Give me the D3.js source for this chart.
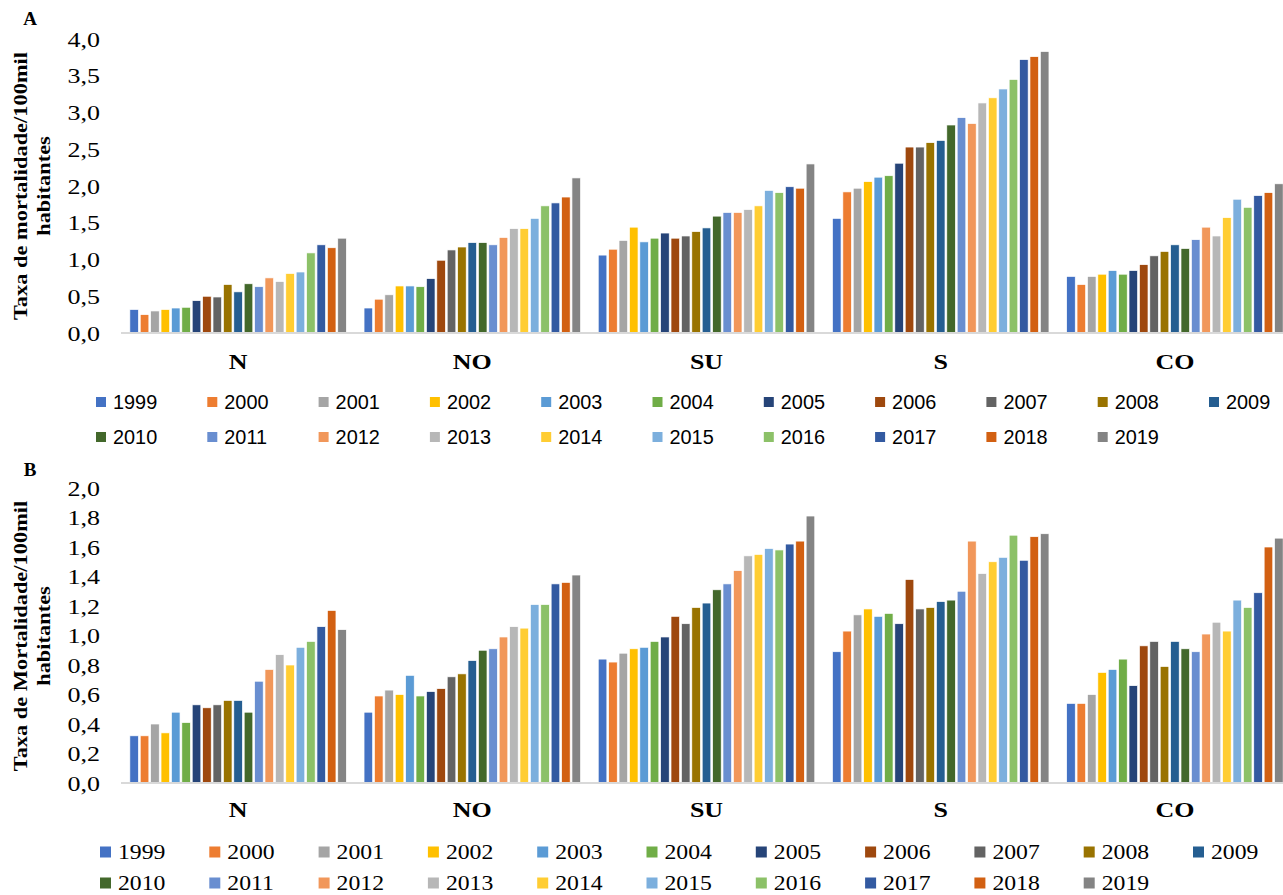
<!DOCTYPE html>
<html>
<head>
<meta charset="utf-8">
<script src="https://cdn.jsdelivr.net/npm/d3@7"></script>
<style>
  html, body { margin: 0; padding: 0; background: #fff; }
  svg { display: block; }
</style>
</head>
<body>
<script>
// ---------- DATA ----------
const regions = ["N", "NO", "SU", "S", "CO"];
const years = ["1999","2000","2001","2002","2003","2004","2005","2006","2007","2008","2009",
               "2010","2011","2012","2013","2014","2015","2016","2017","2018","2019"];
const colors = ["#4472C4","#ED7D31","#A5A5A5","#FFC000","#5B9BD5","#70AD47","#264478",
                "#9E480E","#636363","#997300","#255E91","#43682B","#698ED0","#F1975A",
                "#B7B7B7","#FFCD33","#7CAFDD","#8CC168","#335AA1","#D26012","#848484"];

// Panel A: Taxa de mortalidade (one array per region, 1999..2019)
const ratesA_N  = [0.32,0.25,0.30,0.32,0.34,0.35,0.44,0.50,0.49,0.66,0.56,0.67,0.63,0.75,0.70,0.81,0.83,1.09,1.20,1.16,1.29];
const ratesA_NO = [0.34,0.46,0.52,0.64,0.64,0.63,0.74,0.99,1.13,1.17,1.23,1.23,1.20,1.30,1.42,1.42,1.56,1.73,1.77,1.85,2.11];
const ratesA_SU = [1.06,1.14,1.26,1.44,1.24,1.29,1.36,1.29,1.32,1.38,1.43,1.59,1.64,1.64,1.68,1.73,1.94,1.91,1.99,1.97,2.30];
const ratesA_S  = [1.56,1.92,1.97,2.06,2.12,2.14,2.31,2.53,2.53,2.59,2.62,2.83,2.93,2.85,3.13,3.20,3.32,3.45,3.72,3.76,3.83];
const ratesA_CO = [0.77,0.66,0.77,0.80,0.85,0.80,0.85,0.93,1.05,1.11,1.20,1.15,1.27,1.44,1.32,1.57,1.82,1.71,1.87,1.91,2.03];

// Panel B: Taxa de Mortalidade (one array per region, 1999..2019)
const ratesB_N  = [0.32,0.32,0.40,0.34,0.48,0.41,0.53,0.51,0.53,0.56,0.56,0.48,0.69,0.77,0.87,0.80,0.92,0.96,1.06,1.17,1.04];
const ratesB_NO = [0.48,0.59,0.63,0.60,0.73,0.59,0.62,0.64,0.72,0.74,0.83,0.90,0.91,0.99,1.06,1.05,1.21,1.21,1.35,1.36,1.41];
const ratesB_SU = [0.84,0.82,0.88,0.91,0.92,0.96,0.99,1.13,1.08,1.19,1.22,1.31,1.35,1.44,1.54,1.55,1.59,1.58,1.62,1.64,1.81];
const ratesB_S  = [0.89,1.03,1.14,1.18,1.13,1.15,1.08,1.38,1.18,1.19,1.23,1.24,1.30,1.64,1.42,1.50,1.53,1.68,1.51,1.67,1.69];
const ratesB_CO = [0.54,0.54,0.60,0.75,0.77,0.84,0.66,0.93,0.96,0.79,0.96,0.91,0.89,1.01,1.09,1.03,1.24,1.19,1.29,1.60,1.66];

const ticksA = [0, 0.5, 1, 1.5, 2, 2.5, 3, 3.5, 4];
const ticksB = [0, 0.2, 0.4, 0.6, 0.8, 1.0, 1.2, 1.4, 1.6, 1.8, 2.0];

const panelA = { N: ratesA_N, NO: ratesA_NO, SU: ratesA_SU, S: ratesA_S, CO: ratesA_CO };
const panelB = { N: ratesB_N, NO: ratesB_NO, SU: ratesB_SU, S: ratesB_S, CO: ratesB_CO };

// ---------- DRAW ----------
const W = 1283, H = 895;
const svg = d3.select("body").append("svg").attr("width", W).attr("height", H)
  .style("font-family", "'Liberation Serif', 'Times New Roman', serif");

const fmt = v => v.toFixed(1).replace(".", ",");

function drawPanel(cfg) {
  const g = svg.append("g");
  const y = d3.scaleLinear().domain([0, cfg.ymax]).range([cfg.y0, cfg.y1]);
  const x0 = d3.scaleBand().domain(regions).range([121, 1292]).padding(0);
  const x1 = d3.scaleBand().domain(years).range([0, x0.bandwidth()])
    .paddingInner(0.17).paddingOuter(0.85);
  const color = d3.scaleOrdinal().domain(years).range(colors);

  // Panel letter
  g.append("text").attr("x", 30).attr("y", cfg.letterY)
    .attr("text-anchor", "middle").attr("dominant-baseline", "central")
    .attr("font-weight", "bold").attr("font-size", 19).text(cfg.letter);

  // Y axis tick labels via d3 axis
  const yAxis = d3.axisLeft(y).tickValues(cfg.ticks).tickFormat(fmt).tickSize(0).tickPadding(0);
  const ya = g.append("g").attr("transform", "translate(100,0)").call(yAxis);
  ya.select(".domain").remove();
  ya.selectAll(".tick text")
    .attr("font-family", "'Liberation Serif', serif")
    .attr("font-size", 20).attr("fill", "#000")
    .attr("x", null).attr("dy", "0.35em")
    .attr("text-anchor", "end")
    .attr("transform", "scale(1.3,1)");

  // Bars
  regions.forEach(r => {
    const vals = cfg.data[r];
    const grp = g.append("g").attr("transform", `translate(${x0(r)},0)`);
    grp.selectAll("rect").data(years.map((yr, i) => ({ yr, v: vals[i] })))
      .join("rect")
      .attr("x", d => x1(d.yr))
      .attr("y", d => y(d.v))
      .attr("width", x1.bandwidth())
      .attr("height", d => y(0) - y(d.v))
      .attr("fill", d => color(d.yr))
      .attr("stroke", "#fff").attr("stroke-width", 0.7);
  });

  // X axis line
  g.append("line").attr("x1", 121).attr("x2", W).attr("y1", y(0)).attr("y2", y(0))
    .attr("stroke", "#D9D9D9").attr("stroke-width", 2);

  // Category labels
  regions.forEach(r => {
    g.append("text")
      .attr("transform", `translate(${x0(r) + x0.bandwidth() / 2},${cfg.catY}) scale(1.3,1)`)
      .attr("text-anchor", "middle").attr("dominant-baseline", "central")
      .attr("font-weight", "bold").attr("font-size", 20).text(r);
  });

  // Y title (two lines, rotated)
  cfg.title.forEach((t, i) => {
    g.append("text")
      .attr("transform", `translate(${20 + i * 23},${cfg.titleY}) rotate(-90) scale(1.18,1)`)
      .attr("text-anchor", "middle").attr("dominant-baseline", "central")
      .attr("font-weight", "bold").attr("font-size", 19).text(t);
  });

  // Legend
  years.forEach((yr, i) => {
    const row = i < 11 ? 0 : 1;
    const col = i < 11 ? i : i - 11;
    const lx = cfg.legX + col * cfg.legStep;
    const ly = cfg.legY[row];
    g.append("rect").attr("x", lx).attr("y", ly - cfg.sq / 2)
      .attr("width", cfg.sq).attr("height", cfg.sq).attr("fill", color(yr));
    g.append("text")
      .attr("transform", `translate(${lx + cfg.textOff},${ly}) scale(${cfg.legSx},1)`)
      .attr("dominant-baseline", "central")
      .attr("font-family", cfg.legFont).attr("font-size", cfg.legSize).text(yr);
  });
}

drawPanel({
  letter: "A", letterY: 18, data: panelA, ymax: 4, ticks: ticksA,
  y0: 333, y1: 39, catY: 362, titleY: 186,
  title: ["Taxa de mortalidade/100mil", "habitantes"],
  legX: 96, legStep: 111.3, legY: [402, 437], sq: 10, textOff: 17,
  legFont: "'Liberation Sans', Arial, sans-serif", legSize: 19.5, legSx: 1.02
});

drawPanel({
  letter: "B", letterY: 469, data: panelB, ymax: 2, ticks: ticksB,
  y0: 783, y1: 488, catY: 810, titleY: 636,
  title: ["Taxa de Mortalidade/100mil", "habitantes"],
  legX: 100, legStep: 109.3, legY: [852, 883], sq: 11, textOff: 18,
  legFont: "'Liberation Serif', 'Times New Roman', serif", legSize: 21, legSx: 1.13
});
</script>
</body>
</html>
